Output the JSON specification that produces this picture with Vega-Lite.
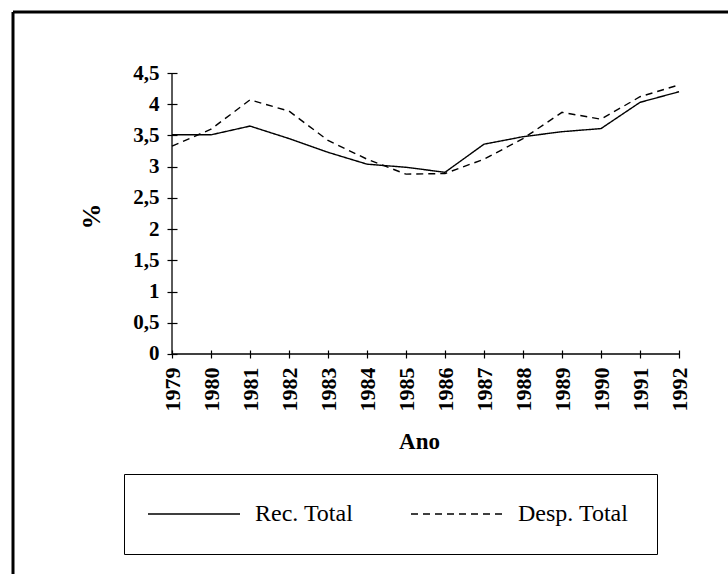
{
  "$schema": "https://vega.github.io/schema/vega-lite/v6.json",
  "width": 715,
  "height": 562,
  "autosize": {"type": "none"},
  "padding": {"left": 13, "top": 12, "right": 0, "bottom": 0},
  "background": "white",
  "config": {
    "view": {"stroke": null},
    "font": "Liberation Serif"
  },
  "datasets": {
    "series": [
      {"ano": 1979, "serie": "Rec. Total", "valor": 3.51},
      {"ano": 1980, "serie": "Rec. Total", "valor": 3.51},
      {"ano": 1981, "serie": "Rec. Total", "valor": 3.65},
      {"ano": 1982, "serie": "Rec. Total", "valor": 3.45},
      {"ano": 1983, "serie": "Rec. Total", "valor": 3.23},
      {"ano": 1984, "serie": "Rec. Total", "valor": 3.04},
      {"ano": 1985, "serie": "Rec. Total", "valor": 2.99},
      {"ano": 1986, "serie": "Rec. Total", "valor": 2.91},
      {"ano": 1987, "serie": "Rec. Total", "valor": 3.36},
      {"ano": 1988, "serie": "Rec. Total", "valor": 3.48},
      {"ano": 1989, "serie": "Rec. Total", "valor": 3.56},
      {"ano": 1990, "serie": "Rec. Total", "valor": 3.61},
      {"ano": 1991, "serie": "Rec. Total", "valor": 4.03},
      {"ano": 1992, "serie": "Rec. Total", "valor": 4.2},
      {"ano": 1979, "serie": "Desp. Total", "valor": 3.33},
      {"ano": 1980, "serie": "Desp. Total", "valor": 3.6},
      {"ano": 1981, "serie": "Desp. Total", "valor": 4.07},
      {"ano": 1982, "serie": "Desp. Total", "valor": 3.89},
      {"ano": 1983, "serie": "Desp. Total", "valor": 3.42},
      {"ano": 1984, "serie": "Desp. Total", "valor": 3.12},
      {"ano": 1985, "serie": "Desp. Total", "valor": 2.88},
      {"ano": 1986, "serie": "Desp. Total", "valor": 2.89},
      {"ano": 1987, "serie": "Desp. Total", "valor": 3.12},
      {"ano": 1988, "serie": "Desp. Total", "valor": 3.45},
      {"ano": 1989, "serie": "Desp. Total", "valor": 3.87},
      {"ano": 1990, "serie": "Desp. Total", "valor": 3.76},
      {"ano": 1991, "serie": "Desp. Total", "valor": 4.12},
      {"ano": 1992, "serie": "Desp. Total", "valor": 4.31}
    ],
    "one": [{"k": 1}]
  },
  "layer": [
    {
      "data": {"name": "series"},
      "mark": {"type": "line", "color": "black", "strokeWidth": 1.4},
      "encoding": {
        "x": {
          "field": "ano",
          "type": "quantitative",
          "scale": {"domain": [1974.923, 1993.256], "nice": false, "zero": false},
          "axis": {
            "values": [1979, 1980, 1981, 1982, 1983, 1984, 1985, 1986, 1987, 1988, 1989, 1990, 1991, 1992],
            "format": "d",
            "offset": -224,
            "domain": false,
            "grid": false,
            "ticks": true,
            "tickSize": 8,
            "tickColor": "black",
            "tickWidth": 1.2,
            "labelAngle": 270,
            "labelAlign": "right",
            "labelBaseline": "middle",
            "labelPadding": 9,
            "labelFont": "Liberation Serif",
            "labelFontSize": 22,
            "labelFontWeight": "bold",
            "labelColor": "black",
            "labelOverlap": false,
            "labelFlush": false,
            "title": "Ano",
            "titleFont": "Liberation Serif",
            "titleFontSize": 23,
            "titleFontWeight": "bold",
            "titleColor": "black",
            "titleX": 406,
            "titleY": 91,
            "titleAlign": "center",
            "titleBaseline": "middle"
          }
        },
        "y": {
          "field": "valor",
          "type": "quantitative",
          "scale": {"domain": [-3.5233, 5.4769], "nice": false, "zero": false},
          "axis": {
            "values": [0, 0.5, 1, 1.5, 2, 2.5, 3, 3.5, 4, 4.5],
            "labelExpr": "replace(format(datum.value, '.1~f'), '.', ',')",
            "offset": -164,
            "domain": false,
            "grid": false,
            "tickSize": 10,
            "tickColor": "black",
            "tickWidth": 1.2,
            "labelPadding": 8,
            "labelFont": "Liberation Serif",
            "labelFontSize": 21,
            "labelFontWeight": "bold",
            "labelColor": "black",
            "labelOverlap": false,
            "labelFlush": false,
            "title": "%",
            "titleFont": "Liberation Serif",
            "titleFontSize": 26,
            "titleFontWeight": "bold",
            "titleColor": "black",
            "titleAngle": 270,
            "titleX": -86,
            "titleY": 204,
            "titleAlign": "center",
            "titleBaseline": "middle"
          }
        },
        "strokeDash": {
          "field": "serie",
          "type": "nominal",
          "scale": {"domain": ["Rec. Total", "Desp. Total"], "range": [[1, 0], [7, 5]]},
          "legend": {
            "title": null,
            "orient": "none",
            "legendX": 111,
            "legendY": 462,
            "direction": "horizontal",
            "strokeColor": "black",
            "padding": 28,
            "symbolType": "M-2,0H9.5",
            "symbolSize": 256,
            "symbolStrokeWidth": 1.4,
            "symbolStrokeColor": "black",
            "labelFont": "Liberation Serif",
            "labelFontSize": 24,
            "labelColor": "black",
            "labelOffset": 79,
            "labelLimit": 400,
            "columnPadding": 54
          }
        }
      }
    },
    {
      "data": {"name": "one"},
      "mark": {"type": "rule", "color": "black", "strokeWidth": 1.3},
      "encoding": {
        "x": {"datum": 1979, "type": "quantitative"},
        "y": {"datum": 0, "type": "quantitative"},
        "y2": {"datum": 4.5}
      }
    },
    {
      "data": {"name": "one"},
      "mark": {"type": "rule", "color": "black", "strokeWidth": 1.3},
      "encoding": {
        "y": {"datum": 0, "type": "quantitative"},
        "x": {"datum": 1979, "type": "quantitative"},
        "x2": {"datum": 1992}
      }
    },
    {
      "data": {"name": "one"},
      "mark": {"type": "rule", "color": "black", "strokeWidth": 3},
      "encoding": {
        "x": {"datum": 1974.923, "type": "quantitative"},
        "y": {"datum": -3.5233, "type": "quantitative"},
        "y2": {"datum": 5.4769}
      }
    },
    {
      "data": {"name": "one"},
      "mark": {"type": "rule", "color": "black", "strokeWidth": 3},
      "encoding": {
        "y": {"datum": 5.4769, "type": "quantitative"},
        "x": {"datum": 1974.923, "type": "quantitative"},
        "x2": {"datum": 1993.256}
      }
    }
  ]
}
